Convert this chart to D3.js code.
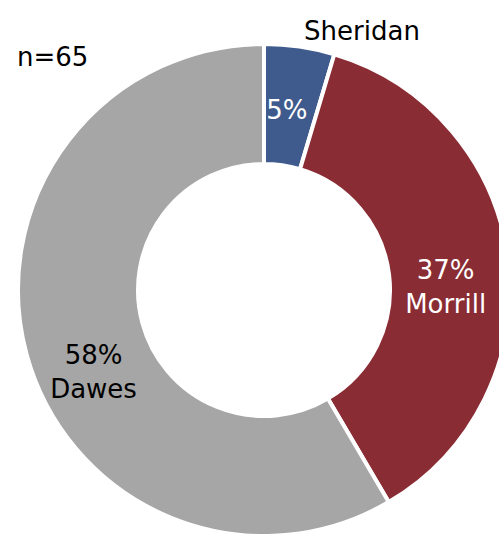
<!DOCTYPE html>
<html>
<head>
<meta charset="utf-8">
<script src="https://cdn.jsdelivr.net/npm/d3@7"></script>
<style>
  html, body { margin: 0; padding: 0; background: #fff; }
  text { font-family: "Century Gothic", "DejaVu Sans", sans-serif; }
</style>
</head>
<body>
<svg width="499" height="534"></svg>
<script>
// counts per county, n=65
const counties = ["Sheridan", "Morrill", "Dawes"];
const counts = [3, 24, 38];
const colors = ["#3F5A8C", "#8A2C34", "#A6A6A6"];
const sampleLabel = "n=65";

function drawChart() {
    const svg = d3.select("svg");

    const cx = 264, cy = 290;
    const outer = 246, inner = 126;
    const total = d3.sum(counts);
    const fs = 26;

    const data = counties.map((c, i) => ({ name: c, value: counts[i], color: colors[i] }));

    const pie = d3.pie().sort(null).value(d => d.value);
    const arc = d3.arc().innerRadius(inner).outerRadius(outer);

    const g = svg.append("g").attr("transform", `translate(${cx},${cy})`);

    g.selectAll("path")
        .data(pie(data))
        .enter().append("path")
        .attr("d", arc)
        .attr("fill", d => d.data.color)
        .attr("stroke", "#fff")
        .attr("stroke-width", 4)
        .attr("stroke-linejoin", "miter");

    const pct = d => Math.round(d.data.value / total * 100) + "%";

    // label placement tweaks (excel style)
    const labelArc = d3.arc().innerRadius(186).outerRadius(186);
    const tweak = {
        Sheridan: { dx: -4, dy: 13 },
        Morrill: { dx: -3, dy: 11 },
        Dawes: { dx: 9, dy: 25 }
    };

    pie(data).forEach(d => {
        const [x, y] = labelArc.centroid(d);
        const t = tweak[d.data.name];
        const txtColor = d.data.name === "Dawes" ? "#000" : "#fff";
        if (d.data.name === "Sheridan") {
            g.append("text")
                .attr("x", x + t.dx).attr("y", y + t.dy)
                .attr("text-anchor", "middle")
                .attr("fill", "#fff")
                .attr("font-size", fs)
                .text(pct(d));
            // outside category label
            g.append("text")
                .attr("x", 98).attr("y", -250)
                .attr("text-anchor", "middle")
                .attr("fill", "#000")
                .attr("font-size", fs)
                .text(d.data.name);
        } else {
            const lbl = g.append("text")
                .attr("text-anchor", "middle")
                .attr("fill", txtColor)
                .attr("font-size", fs);
            lbl.append("tspan").attr("x", x + t.dx).attr("y", y + t.dy).text(pct(d));
            lbl.append("tspan").attr("x", x + t.dx).attr("y", y + t.dy + 34).text(d.data.name);
        }
    });

    svg.append("text")
        .attr("x", 17).attr("y", 66)
        .attr("fill", "#000")
        .attr("font-size", fs)
        .text(sampleLabel);
}

document.addEventListener('DOMContentLoaded', function() {
    drawChart();
});
</script>
</body>
</html>
